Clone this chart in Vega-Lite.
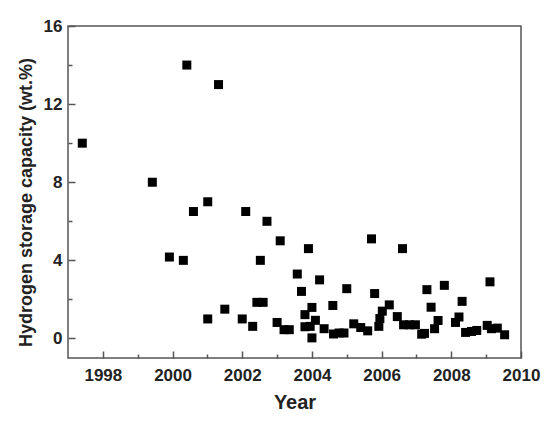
{
  "$schema": "https://vega.github.io/schema/vega-lite/v6.json",
  "width": 453,
  "height": 332,
  "autosize": {"type": "none"},
  "padding": {"left": 68, "top": 26, "right": 29, "bottom": 65},
  "background": "white",
  "config": {
    "view": {"stroke": "#555555", "strokeWidth": 1.5},
    "font": "Liberation Sans"
  },
  "data": {
    "values": [
      {"year": 1997.41, "capacity": 10.0},
      {"year": 1999.42, "capacity": 8.0},
      {"year": 1999.91, "capacity": 4.17},
      {"year": 2000.31, "capacity": 4.0},
      {"year": 2000.41, "capacity": 14.0},
      {"year": 2000.6, "capacity": 6.5},
      {"year": 2001.01, "capacity": 7.0},
      {"year": 2001.01, "capacity": 1.0},
      {"year": 2001.32, "capacity": 13.0},
      {"year": 2001.5, "capacity": 1.5},
      {"year": 2002.0, "capacity": 1.0},
      {"year": 2002.1, "capacity": 6.5},
      {"year": 2002.3, "capacity": 0.62},
      {"year": 2002.42, "capacity": 1.85},
      {"year": 2002.52, "capacity": 4.0},
      {"year": 2002.6, "capacity": 1.85},
      {"year": 2002.71, "capacity": 6.0},
      {"year": 2003.0, "capacity": 0.82},
      {"year": 2003.09, "capacity": 5.0},
      {"year": 2003.2, "capacity": 0.45},
      {"year": 2003.35, "capacity": 0.45},
      {"year": 2003.58, "capacity": 3.3},
      {"year": 2003.7, "capacity": 2.41},
      {"year": 2003.8, "capacity": 1.22},
      {"year": 2003.8, "capacity": 0.6},
      {"year": 2003.9, "capacity": 4.6},
      {"year": 2003.95, "capacity": 0.62},
      {"year": 2004.0, "capacity": 1.59},
      {"year": 2004.0, "capacity": 0.03},
      {"year": 2004.1, "capacity": 0.93},
      {"year": 2004.22, "capacity": 3.0},
      {"year": 2004.35, "capacity": 0.5},
      {"year": 2004.6, "capacity": 1.69},
      {"year": 2004.62, "capacity": 0.23},
      {"year": 2004.78, "capacity": 0.28},
      {"year": 2004.92, "capacity": 0.28},
      {"year": 2005.0, "capacity": 2.55},
      {"year": 2005.2, "capacity": 0.75},
      {"year": 2005.4, "capacity": 0.56},
      {"year": 2005.6, "capacity": 0.39},
      {"year": 2005.71, "capacity": 5.1},
      {"year": 2005.8, "capacity": 2.3},
      {"year": 2005.92, "capacity": 0.62},
      {"year": 2005.95, "capacity": 1.02},
      {"year": 2006.02, "capacity": 1.4},
      {"year": 2006.22, "capacity": 1.72},
      {"year": 2006.45, "capacity": 1.12},
      {"year": 2006.6, "capacity": 4.6},
      {"year": 2006.63, "capacity": 0.7},
      {"year": 2006.8, "capacity": 0.7},
      {"year": 2006.97, "capacity": 0.7},
      {"year": 2007.15, "capacity": 0.22},
      {"year": 2007.23, "capacity": 0.26},
      {"year": 2007.3, "capacity": 2.5},
      {"year": 2007.42, "capacity": 1.6},
      {"year": 2007.52, "capacity": 0.5},
      {"year": 2007.62, "capacity": 0.92},
      {"year": 2007.8, "capacity": 2.72},
      {"year": 2008.12, "capacity": 0.82},
      {"year": 2008.22, "capacity": 1.1},
      {"year": 2008.31, "capacity": 1.9},
      {"year": 2008.41, "capacity": 0.31},
      {"year": 2008.58, "capacity": 0.36},
      {"year": 2008.73, "capacity": 0.41},
      {"year": 2009.03, "capacity": 0.67},
      {"year": 2009.11, "capacity": 2.9},
      {"year": 2009.15, "capacity": 0.5},
      {"year": 2009.32, "capacity": 0.53},
      {"year": 2009.53, "capacity": 0.19}
    ]
  },
  "mark": {"type": "square", "size": 81, "color": "black", "opacity": 1, "filled": true},
  "encoding": {
    "x": {
      "field": "year",
      "type": "quantitative",
      "scale": {"domain": [1997, 2010], "nice": false, "zero": false},
      "axis": {
        "title": "Year",
        "titleFontSize": 20,
        "titleFontWeight": "bold",
        "titleColor": "#222222",
        "titlePadding": 6,
        "values": [1998, 1999, 2000, 2001, 2002, 2003, 2004, 2005, 2006, 2007, 2008, 2009, 2010],
        "labelExpr": "datum.value % 2 == 0 ? datum.label : ''",
        "format": "d",
        "labelFontSize": 17,
        "labelFontWeight": "bold",
        "labelColor": "#222222",
        "labelPadding": 16,
        "labelFlush": false,
        "labelOverlap": false,
        "domain": false,
        "grid": false,
        "tickColor": "#555555",
        "tickWidth": 1.5,
        "tickSize": {"condition": {"test": "datum.value % 2 == 0", "value": -7}, "value": -4}
      }
    },
    "y": {
      "field": "capacity",
      "type": "quantitative",
      "scale": {"domain": [-1, 16], "nice": false, "zero": false},
      "axis": {
        "title": "Hydrogen storage capacity (wt.%)",
        "titleFontSize": 18,
        "titleFontWeight": "bold",
        "titleColor": "#222222",
        "titlePadding": 8,
        "titleY": 176,
        "values": [0, 2, 4, 6, 8, 10, 12, 14, 16],
        "labelExpr": "datum.value % 4 == 0 ? datum.label : ''",
        "labelFontSize": 17,
        "labelFontWeight": "bold",
        "labelColor": "#222222",
        "labelPadding": 13,
        "labelFlush": false,
        "labelOverlap": false,
        "domain": false,
        "grid": false,
        "tickColor": "#555555",
        "tickWidth": 1.5,
        "tickSize": {"condition": {"test": "datum.value % 4 == 0", "value": -7}, "value": -4}
      }
    }
  }
}
